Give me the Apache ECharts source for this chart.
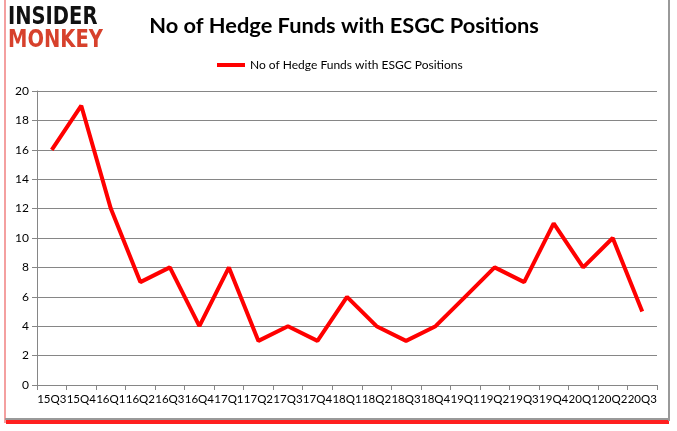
<!DOCTYPE html>
<html><head><meta charset="utf-8">
<script src="https://cdn.jsdelivr.net/npm/echarts@6/dist/echarts.min.js"></script>
<style>html,body{margin:0;padding:0;background:#fff}#c{width:677px;height:431px}</style>
</head><body><div id="c"></div>
<script>
const categories = ["15Q3","15Q4","16Q1","16Q2","16Q3","16Q4","17Q1","17Q2","17Q3","17Q4","18Q1","18Q2","18Q3","18Q4","19Q1","19Q2","19Q3","19Q4","20Q1","20Q2","20Q3"];
const values = [16,19,12,7,8,4,8,3,4,3,6,4,3,4,6,8,7,11,8,10,5];
const seriesName = "No of Hedge Funds with ESGC Positions";
const titleText = "No of Hedge Funds with ESGC Positions";

const chart = echarts.init(document.getElementById('c'), null, {renderer:'canvas'});
chart.setOption({
  backgroundColor:'#fff',
  animation:false,
  title:{text:titleText, left:339, top:10, textAlign:'center',
    textStyle:{fontFamily:'Lato', fontWeight:'bold', fontSize:21.8, color:'#000'}},
  legend:{top:54, left:212, itemWidth:28, itemHeight:4, icon:'rect', itemGap:5,
    textStyle:{fontFamily:'Lato', fontSize:12, color:'#000'},
    data:[seriesName]},
  grid:{left:37, right:20, top:91, bottom:46},
  xAxis:{type:'category', data:categories, boundaryGap:true,
    axisLine:{lineStyle:{color:'#868686'}},
    axisTick:{show:true, interval:0, lineStyle:{color:'#868686'}, length:5},
    axisLabel:{interval:0, margin:8, color:'#000', fontFamily:'Lato', fontSize:11.5,
      formatter:(v)=>v}},
  yAxis:{type:'value', min:0, max:20, interval:2,
    axisLine:{show:true, lineStyle:{color:'#868686'}},
    axisTick:{show:true, length:5, lineStyle:{color:'#868686'}},
    splitLine:{lineStyle:{color:'#868686'}},
    axisLabel:{color:'#000', fontFamily:'Lato', fontSize:12, margin:8}},
  series:[{name:seriesName, type:'line', data:values, symbol:'none',
    lineStyle:{color:'#ff0000', width:4}, itemStyle:{color:'#ff0000'}}],
  graphic:[
    {type:'rect', shape:{x:4, y:0, width:2, height:423}, style:{fill:'#f4a0a0'}, z:-1},
    {type:'rect', shape:{x:6, y:420, width:663, height:4}, style:{fill:'#ff2020'}, z:-1},
    {type:'rect', shape:{x:668, y:0, width:2, height:421}, style:{fill:'#999'}, z:-1},
    {type:'rect', shape:{x:5, y:418, width:663, height:2}, style:{fill:'#999'}, z:-1},
    {type:'text', x:8, y:5, scaleX:0.78, style:{text:'INSIDER', font:'900 25px "DejaVu Sans"', fill:'#111'}},
    {type:'text', x:8, y:28, scaleX:0.78, style:{text:'MONKEY', font:'900 25px "DejaVu Sans"', fill:'#d7412c'}}
  ]
});
</script></body></html>
